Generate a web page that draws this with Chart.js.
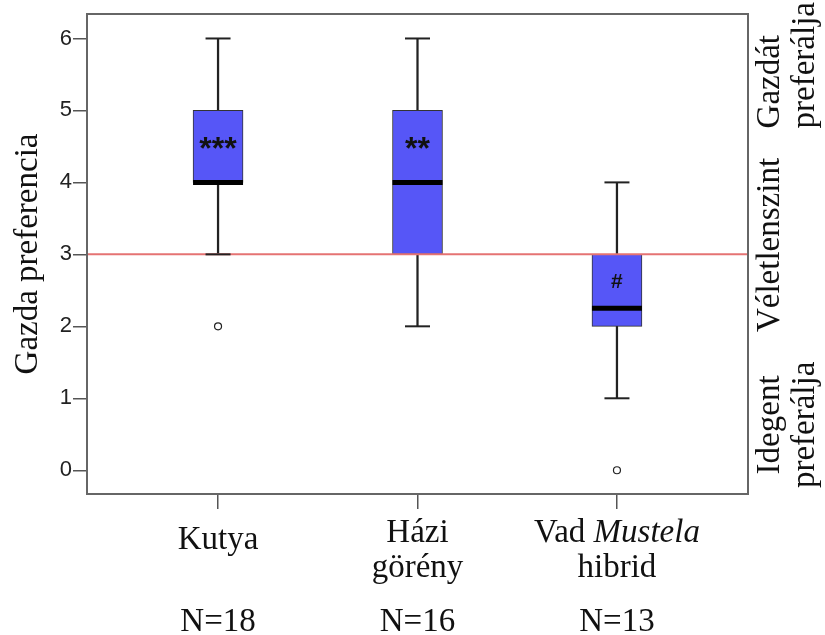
<!DOCTYPE html>
<html>
<head>
<meta charset="utf-8">
<script src="https://cdn.jsdelivr.net/npm/chart.js@4.4.1/dist/chart.umd.min.js"></script>
<style>
  html, body { margin: 0; padding: 0; background: #fff; }
  canvas { display: block; }
</style>
</head>
<body>
<canvas id="chart" width="825" height="635"></canvas>
<script>
// csoportok (x tengely)
const categories = ['Kutya', 'Házi görény', 'Vad Mustela hibrid'];
const labelLines = [['Kutya'], ['Házi', 'görény'], ['Vad _Mustela_', 'hibrid']];
const sampleSizes = [18, 16, 13];

// boxplot értékek
const mins = [3, 2, 1];
const q1s = [4, 3, 2];
const medians = [4, 4, 2.25];
const q3s = [5, 5, 3];
const maxs = [6, 6, 4];
const outliers = [[2], [], [0]];

// szignifikancia jelek
const marks = ['***', '**', '#'];
const markValues = [4.55, 4.55, 2.63];

const yTicks = [0, 1, 2, 3, 4, 5, 6];
const chanceLevel = 3;
const sideLabels = [['Gazdát', 'preferálja'], ['Véletlenszint'], ['Idegent', 'preferálja']];

const xMin = 0.343, xMax = 3.657;
const serif = '"Liberation Serif", "Times New Roman", serif';
const sans = '"Liberation Sans", Arial, sans-serif';

const pts = (vals) => vals.map((v, i) => ({ x: i + 1, y: v }));
const range = (lo, hi) => lo.map((v, i) => ({ x: i + 1, y: [v, hi[i]] }));
const outlierPts = [];
outliers.forEach((arr, i) => arr.forEach(v => outlierPts.push({ x: i + 1, y: v })));

// feliratok, keret
const annotations = {
  id: 'annotations',
  afterDatasetsDraw(chart) {
    const { ctx, chartArea: a, scales: { x, y } } = chart;
    ctx.save();
    ctx.fillStyle = '#111';
    ctx.textAlign = 'center';
    marks.forEach((m, i) => {
      ctx.font = m === '#' ? 'bold 21px ' + sans : 'bold 32px ' + sans;
      const tm = ctx.measureText(m);
      const cy = y.getPixelForValue(markValues[i]);
      ctx.fillText(m, x.getPixelForValue(i + 1), cy + (tm.actualBoundingBoxAscent - tm.actualBoundingBoxDescent) / 2);
    });
    ctx.strokeStyle = '#666';
    ctx.lineWidth = 2;
    ctx.strokeRect(a.left, a.top, a.right - a.left, a.bottom - a.top);
    ctx.restore();
  },
  afterDraw(chart) {
    const { ctx, chartArea: a, scales: { x, y } } = chart;
    ctx.save();
    ctx.fillStyle = '#111';
    ctx.textBaseline = 'alphabetic';

    // kategória nevek (dőlt részek _ között)
    labelLines.forEach((lines, i) => {
      const cx = x.getPixelForValue(i + 1);
      lines.forEach((line, j) => {
        const segs = line.split('_').map((t, k) => ({ t, it: k % 2 === 1 })).filter(s => s.t);
        let total = 0;
        segs.forEach(s => {
          ctx.font = (s.it ? 'italic ' : '') + '33px ' + serif;
          s.w = ctx.measureText(s.t).width;
          total += s.w;
        });
        const base = lines.length === 1 ? a.bottom + 55 : a.bottom + 48 + j * 35;
        let sx = cx - total / 2;
        ctx.textAlign = 'left';
        segs.forEach(s => {
          ctx.font = (s.it ? 'italic ' : '') + '33px ' + serif;
          ctx.fillText(s.t, sx, base);
          sx += s.w;
        });
      });
      ctx.textAlign = 'center';
      ctx.font = '33px ' + serif;
      ctx.fillText('N=' + sampleSizes[i], cx, a.bottom + 137);
    });

    // jobb oldali magyarázó szöveg
    const blocks = [
      { at: 4.75, align: 'left' },
      { at: 3.13, align: 'center' },
      { at: 0.63, align: 'center' }
    ];
    ctx.font = '33px ' + serif;
    ctx.textBaseline = 'middle';
    sideLabels.forEach((lines, i) => {
      const yy = y.getPixelForValue(blocks[i].at);
      lines.forEach((line, j) => {
        ctx.save();
        ctx.translate(a.right + 22 + j * 35, yy);
        ctx.rotate(-Math.PI / 2);
        ctx.textAlign = blocks[i].align;
        ctx.fillText(line, 0, 0);
        ctx.restore();
      });
    });
    ctx.restore();
  }
};

new Chart(document.getElementById('chart'), {
  type: 'bar',
  data: {
    datasets: [
      {
        label: 'Alsó bajusz',
        data: range(mins, q1s),
        backgroundColor: '#222',
        borderWidth: 0,
        barThickness: 1.6,
        grouped: false,
        order: 7
      },
      {
        label: 'Felső bajusz',
        data: range(q3s, maxs),
        backgroundColor: '#222',
        borderWidth: 0,
        barThickness: 1.6,
        grouped: false,
        order: 7
      },
      {
        label: 'Doboz',
        data: range(q1s, q3s),
        backgroundColor: '#5656f7',
        borderColor: '#333',
        borderWidth: 1,
        borderSkipped: false,
        barThickness: 50,
        grouped: false,
        order: 6
      },
      {
        type: 'line',
        label: 'Véletlenszint',
        data: [{ x: xMin, y: chanceLevel }, { x: xMax, y: chanceLevel }],
        borderColor: '#e57373',
        borderWidth: 2,
        pointRadius: 0,
        order: 5
      },
      {
        type: 'line',
        label: 'Min/max',
        data: pts(mins).concat(pts(maxs)),
        showLine: false,
        pointStyle: 'line',
        pointRadius: 12.5,
        pointBorderWidth: 2,
        pointBorderColor: '#222',
        order: 4
      },
      {
        type: 'line',
        label: 'Medián',
        data: pts(medians),
        showLine: false,
        pointStyle: 'line',
        pointRadius: 25,
        pointBorderWidth: 5,
        pointBorderColor: '#000',
        order: 3
      },
      {
        type: 'line',
        label: 'Kiugró',
        data: outlierPts,
        showLine: false,
        pointStyle: 'circle',
        pointRadius: 3.5,
        pointBorderWidth: 1.2,
        pointBorderColor: '#222',
        pointBackgroundColor: '#fff',
        order: 2
      }
    ]
  },
  options: {
    responsive: false,
    animation: false,
    events: [],
    // a nagy pontsugarak miatti automatikus margót kikapcsoljuk
    layout: { autoPadding: false, padding: { left: 0, right: 77, top: 14, bottom: 0 } },
    plugins: {
      legend: { display: false },
      tooltip: { enabled: false }
    },
    scales: {
      x: {
        type: 'linear',
        min: xMin,
        max: xMax,
        offset: false,
        afterBuildTicks: s => { s.ticks = categories.map((c, i) => ({ value: i + 1 })); },
        afterFit: s => { s.height = 141; s.paddingLeft = 0; s.paddingRight = 0; },
        ticks: { callback: () => '', padding: 0 },
        grid: { offset: false, drawOnChartArea: false, tickLength: 15, color: '#555', lineWidth: 1.5 },
        border: { display: false }
      },
      y: {
        min: -0.33,
        max: 6.34,
        afterBuildTicks: s => { s.ticks = yTicks.map(v => ({ value: v })); },
        afterFit: s => { s.width = 87; s.paddingTop = 0; s.paddingBottom = 0; },
        ticks: { font: { family: sans, size: 22 }, color: '#222', padding: 1 },
        grid: { drawOnChartArea: false, tickLength: 14, color: '#555', lineWidth: 1.5 },
        border: { display: false },
        title: {
          display: true,
          text: 'Gazda preferencia',
          font: { family: serif, size: 33 },
          color: '#111',
          padding: { top: 9, bottom: 0 }
        }
      }
    }
  },
  plugins: [annotations]
});
</script>
</body>
</html>
